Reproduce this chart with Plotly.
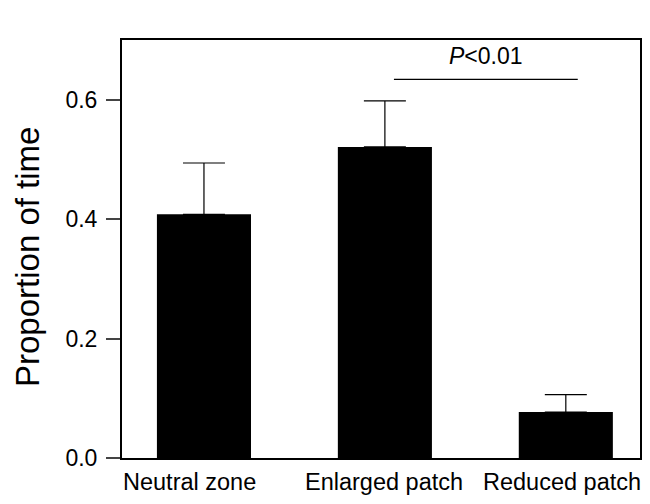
import plotly.graph_objects as go

categories = ["Neutral zone", "Enlarged patch", "Reduced patch"]
values = [0.408, 0.521, 0.077]
errors = [0.086, 0.077, 0.029]
y_ticks = [0.0, 0.2, 0.4, 0.6]
y_tick_labels = ["0.0", "0.2", "0.4", "0.6"]

x_pos = [0, 1, 2]
label_shift = [-14, -1, -4]

fig = go.Figure()
fig.add_trace(go.Bar(
    x=x_pos, y=values, width=0.52,
    marker=dict(color="black", line=dict(width=0)),
    error_y=dict(type="data", array=errors, arrayminus=[0, 0, 0], symmetric=False,
                 color="black", thickness=1.2, width=21),
))

# category labels
for xp, lab, sh in zip(x_pos, categories, label_shift):
    fig.add_annotation(x=xp, y=0, xref="x", yref="paper", yanchor="top",
                       xshift=sh, yshift=-9, showarrow=False, text=lab,
                       font=dict(size=23.5, color="black"))

# y-axis title
fig.add_annotation(x=0, y=0.5, xref="paper", yref="paper", xanchor="center",
                   yanchor="middle", xshift=-95, yshift=-8, textangle=-90,
                   showarrow=False, text="Proportion of time",
                   font=dict(size=33, color="black"))

# significance bar
fig.add_shape(type="line", x0=1.05, x1=2.066, y0=0.634, y1=0.634,
              xref="x", yref="y", line=dict(color="black", width=1.3))
fig.add_annotation(x=1.56, y=0.674, xref="x", yref="y", showarrow=False,
                   text="<i>P</i><0.01", font=dict(size=23, color="black"))

fig.update_layout(
    width=650, height=504,
    margin=dict(l=114, r=18, t=32, b=54),
    paper_bgcolor="white", plot_bgcolor="white",
    showlegend=False,
    font=dict(family="Arial, Liberation Sans, sans-serif", color="black"),
)
fig.update_xaxes(
    range=[-0.453, 2.41], tickvals=x_pos, showticklabels=False,
    showgrid=False, zeroline=False, ticks="", showline=True, linecolor="black",
    linewidth=2, mirror=True,
)
fig.update_yaxes(
    range=[0, 0.7], tickvals=y_ticks, ticktext=y_tick_labels,
    showgrid=False, zeroline=False, ticks="outside", ticklen=14, tickwidth=2,
    showline=True, linecolor="black", linewidth=2, mirror=True,
    tickfont=dict(size=23), ticklabelstandoff=4,
)

fig.write_html("out.html")
